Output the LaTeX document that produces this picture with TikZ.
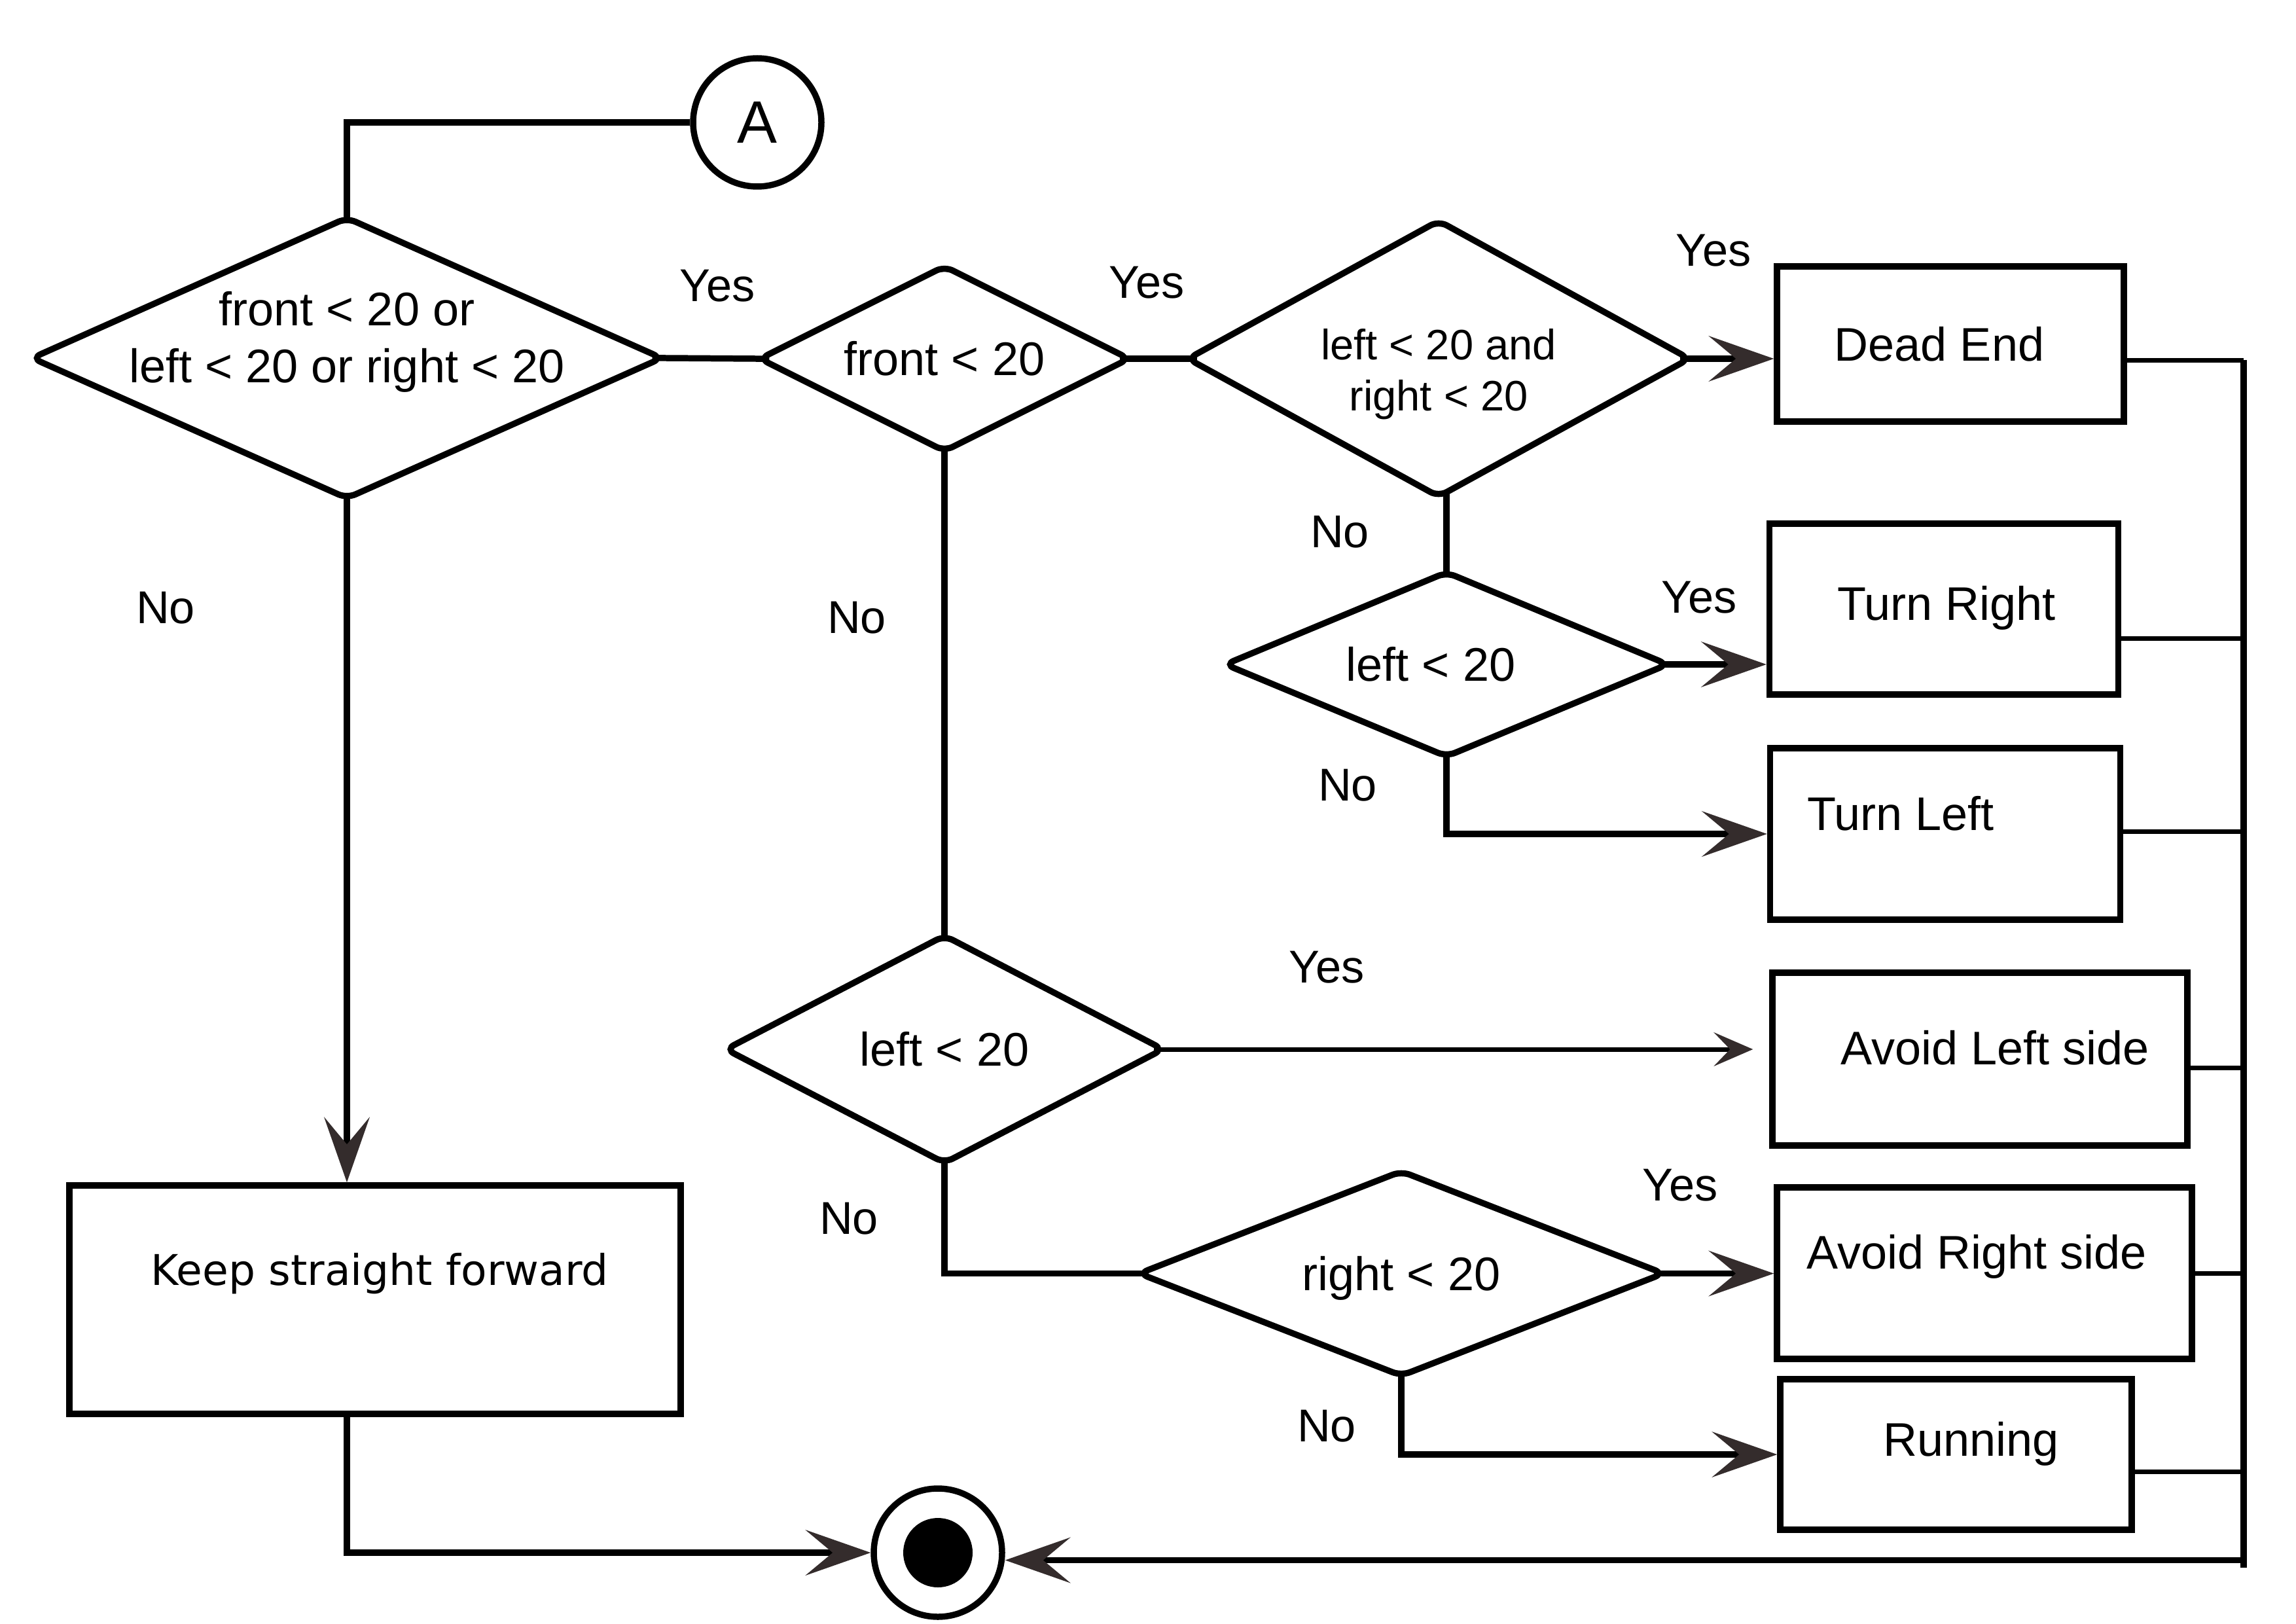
\documentclass[tikz,border=0pt]{standalone}
\usepackage{fontspec}
\setmainfont{Liberation Sans}
\newfontfamily\dejavu{DejaVu Sans}
\usetikzlibrary{shapes.geometric, arrows.meta}

\definecolor{tipgray}{RGB}{52,44,44}

% text inside a shape, moved by (dx,dy) from its centre
\newcommand{\tx}[3]{\makebox[0pt]{\hspace*{#1}\hspace*{#1}\raisebox{\dimexpr #2-0.36em\relax}[0pt][0pt]{\begin{tabular}[t]{@{}c@{}}#3\end{tabular}}}}

\tikzset{
  base/.style={draw, line width=2.7pt, inner sep=0pt, font=\fontsize{20.5}{24.6}\selectfont},
  dec/.style={base, diamond, rounded corners=4pt},
  act/.style={base, rectangle},
  lbl/.style={inner sep=0pt, font=\fontsize{20}{24}\selectfont},
  flow/.style={line width=2.7pt},
  fromtip/.style={shorten <=-6pt},
  totip/.style={shorten >=-6pt},
  fromvtip/.style={shorten <=-3pt},
  tovtip/.style={shorten >=-3pt},
  go/.style={flow, -{Stealth[length=1cm, width=0.7cm, inset=0.42cm, line width=0.5pt, color=tipgray, fill=tipgray]}},
  gosmall/.style={line width=2pt, -{Stealth[length=0.6cm, width=0.52cm, inset=0.25cm, line width=0.5pt, color=tipgray, fill=tipgray]}},
}

\begin{document}
\begin{tikzpicture}
  \useasboundingbox (0,0) rectangle (35.08,-24.80);

  % Start and end
  \node[base, circle, minimum size=1.96cm, font=\fontsize{26}{30}\selectfont] (A) at (11.57,-1.87) {A};
  \node[base, circle, minimum size=1.96cm] (fin) at (14.33,-23.72) {};
  \fill (fin) circle (0.53);

  % Decisions
  \node[dec, minimum width=9.66cm, minimum height=4.32cm] (q1) at (5.30,-5.47)
    {\tx{0cm}{12.3pt+0.32cm}{front < 20 or\\left < 20 or right < 20}};
  \node[dec, minimum width=5.68cm, minimum height=2.86cm] (q2) at (14.43,-5.48) {\tx{0cm}{0pt}{front < 20}};
  \node[dec, minimum width=7.7cm, minimum height=4.25cm, font=\fontsize{18.5}{22.2}\selectfont] (q3) at (21.98,-5.48)
    {\tx{0cm}{11.1pt-0.17cm}{left < 20 and\\right < 20}};
  \node[dec, minimum width=6.8cm, minimum height=2.85cm] (q4) at (22.10,-10.15) {\tx{-0.24cm}{0pt}{left < 20}};
  \node[dec, minimum width=6.72cm, minimum height=3.51cm] (q5) at (14.43,-16.03) {\tx{0cm}{0pt}{left < 20}};
  \node[dec, minimum width=8.05cm, minimum height=3.16cm] (q6) at (21.41,-19.455) {\tx{0cm}{0pt}{right < 20}};

  % Actions
  \node[act, minimum width=9.34cm, minimum height=3.49cm, font=\dejavu\fontsize{18.4}{22}\selectfont] (kb) at (5.73,-19.855)
    {\tx{0.07cm}{0.455cm}{Keep straight forward}};
  \node[act, minimum width=5.3cm, minimum height=2.37cm] (de) at (29.80,-5.255) {\tx{-0.17cm}{0cm}{Dead End}};
  \node[act, minimum width=5.33cm, minimum height=2.61cm] (tr) at (29.70,-9.305) {\tx{0.04cm}{0.09cm}{Turn Right}};
  \node[act, minimum width=5.35cm, minimum height=2.62cm] (tl) at (29.72,-12.74) {\tx{-0.68cm}{0.31cm}{Turn Left}};
  \node[act, minimum width=6.34cm, minimum height=2.64cm] (al) at (30.25,-16.18) {\tx{0.23cm}{0.17cm}{Avoid Left side}};
  \node[act, minimum width=6.34cm, minimum height=2.62cm] (ar) at (30.32,-19.45) {\tx{-0.12cm}{0.32cm}{Avoid Right side}};
  \node[act, minimum width=5.37cm, minimum height=2.30cm] (ru) at (29.885,-22.22) {\tx{0.23cm}{0.23cm}{Running}};

  % Labels
  \node[lbl] (no1) at (2.53,-9.29) {No};
  \node[lbl] (yes1) at (10.96,-4.37) {Yes};
  \node[lbl] (yes2) at (17.52,-4.32) {Yes};
  \node[lbl] (yes3) at (26.18,-3.83) {Yes};
  \node[lbl] (no2) at (13.09,-9.44) {No};
  \node[lbl] (no3) at (20.47,-8.13) {No};
  \node[lbl] (yes4) at (25.96,-9.13) {Yes};
  \node[lbl] (no4) at (20.59,-12.00) {No};
  \node[lbl] (yes5) at (20.27,-14.775) {Yes};
  \node[lbl] (no5) at (12.97,-18.62) {No};
  \node[lbl] (yes6) at (25.67,-18.11) {Yes};
  \node[lbl] (no6) at (20.27,-21.79) {No};

  % Flow
  \coordinate (bustop) at (34.28,-5.50);
  \coordinate (busbot) at (34.28,-23.835);
  \draw[flow, tovtip] (A.west) -| (q1.north);
  \draw[flow, fromtip, totip] (q1.east) -- (q2.west);
  \draw[flow, fromtip, totip] (q2.east) -- (q3.west);
  \draw[flow, fromvtip, tovtip] (q2.south) -- (q5.north);
  \draw[flow, fromvtip, tovtip] (q4.north |- q3.south) -- (q4.north);
  \draw[go, fromvtip] (q1.south) -- (q1.south |- kb.north);
  \draw[go] (q1.south |- kb.south) |- (fin.west);
  \draw[go, fromtip] (q3.east) -- (q3.east -| de.west);
  \draw[go, fromtip] (q4.east) -- (q4.east -| tr.west);
  \draw[go, fromvtip] (q4.south) |- (tl.west);
  \draw[gosmall, fromtip, shorten >=0.25cm] (q5.east) -- (q5.east -| al.west);
  \draw[flow, fromvtip, totip] (q5.south) |- (q6.west);
  \draw[go, fromtip] (q6.east) -- (q6.east -| ar.west);
  \draw[go, fromvtip] (q6.south) |- (ru.west);

  % Collecting line
  \foreach \b/\s in {de/-0.25, tr/-0.45, tl/0.04, al/-0.13, ar/0, ru/-0.26}
    \draw[line width=2pt] ([yshift=\s cm]\b.east) coordinate (t) -- (t -| bustop);
  \draw[flow] (bustop) -- (34.28,-23.95);
  \draw[go] (busbot) -- (busbot -| fin.east);
\end{tikzpicture}
\end{document}
